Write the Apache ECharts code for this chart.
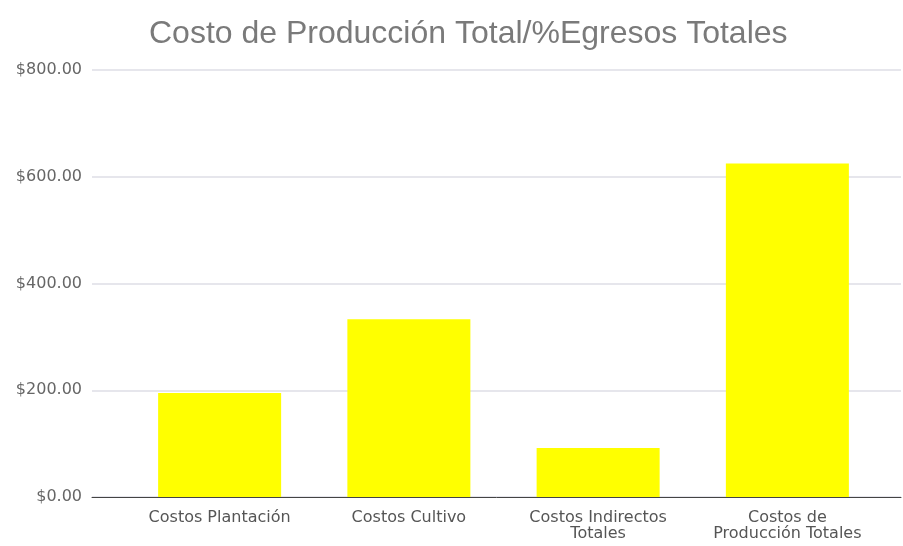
<!DOCTYPE html>
<html>
<head>
<meta charset="utf-8">
<script src="https://cdn.jsdelivr.net/npm/echarts@6/dist/echarts.min.js"></script>
<style>
  html, body { margin: 0; padding: 0; background: #fff; }
  #chart { width: 903px; height: 546px; }
</style>
</head>
<body>
<div id="chart"></div>
<script>
// datos
const categorias = [
  "Costos Plantación",
  "Costos Cultivo",
  "Costos Indirectos\nTotales",
  "Costos de\nProducción Totales",
];
const costos = [195, 333, 92, 625];
const yMin = 0;
const yMax = 800;
const yPaso = 200;

const myChart = echarts.init(document.getElementById("chart"));

const option = {
  backgroundColor: "#fff",
  animation: false,
  title: {
    text: "Costo de Producción Total/%Egresos Totales",
    left: 144,
    top: 13,
    textStyle: {
      fontFamily: "Liberation Sans",
      fontWeight: "normal",
      fontSize: 32,
      color: "#7a7a7a",
    },
  },
  // grid 0: lineas guia y eje Y, grid 1: las barras
  grid: [
    { left: 92, right: 2, top: 70, bottom: 49 },
    { left: 125, right: 21, top: 70, bottom: 49 },
  ],
  xAxis: [
    {
      gridIndex: 0,
      type: "value",
      min: 0,
      max: 1,
      axisLine: { show: true, onZero: false, lineStyle: { color: "#444", width: 1 } },
      axisTick: { show: false },
      axisLabel: { show: false },
      splitLine: { show: false },
    },
    {
      gridIndex: 1,
      type: "category",
      data: categorias,
      axisLine: { show: false },
      axisTick: { show: false },
      axisLabel: {
        interval: 0,
        margin: 13,
        fontFamily: "DejaVu Sans",
        fontSize: 16,
        lineHeight: 16,
        color: "#555",
      },
    },
  ],
  yAxis: [
    {
      gridIndex: 0,
      type: "value",
      min: yMin,
      max: yMax,
      interval: yPaso,
      axisLine: { show: false },
      axisTick: { show: false },
      axisLabel: {
        margin: 10,
        fontFamily: "DejaVu Sans",
        fontSize: 16,
        color: "#666",
        formatter: (v) => "$" + v.toFixed(2),
      },
      splitLine: { show: true, lineStyle: { color: "#e6e6ec", width: 2 } },
    },
    {
      gridIndex: 1,
      type: "value",
      min: yMin,
      max: yMax,
      interval: yPaso,
      show: false,
      splitLine: { show: false },
    },
  ],
  series: [
    {
      name: "Costo",
      type: "bar",
      xAxisIndex: 1,
      yAxisIndex: 1,
      data: costos,
      barCategoryGap: "35%",
      itemStyle: { color: "#ffff00" },
    },
  ],
};

myChart.setOption(option);
</script>
</body>
</html>
